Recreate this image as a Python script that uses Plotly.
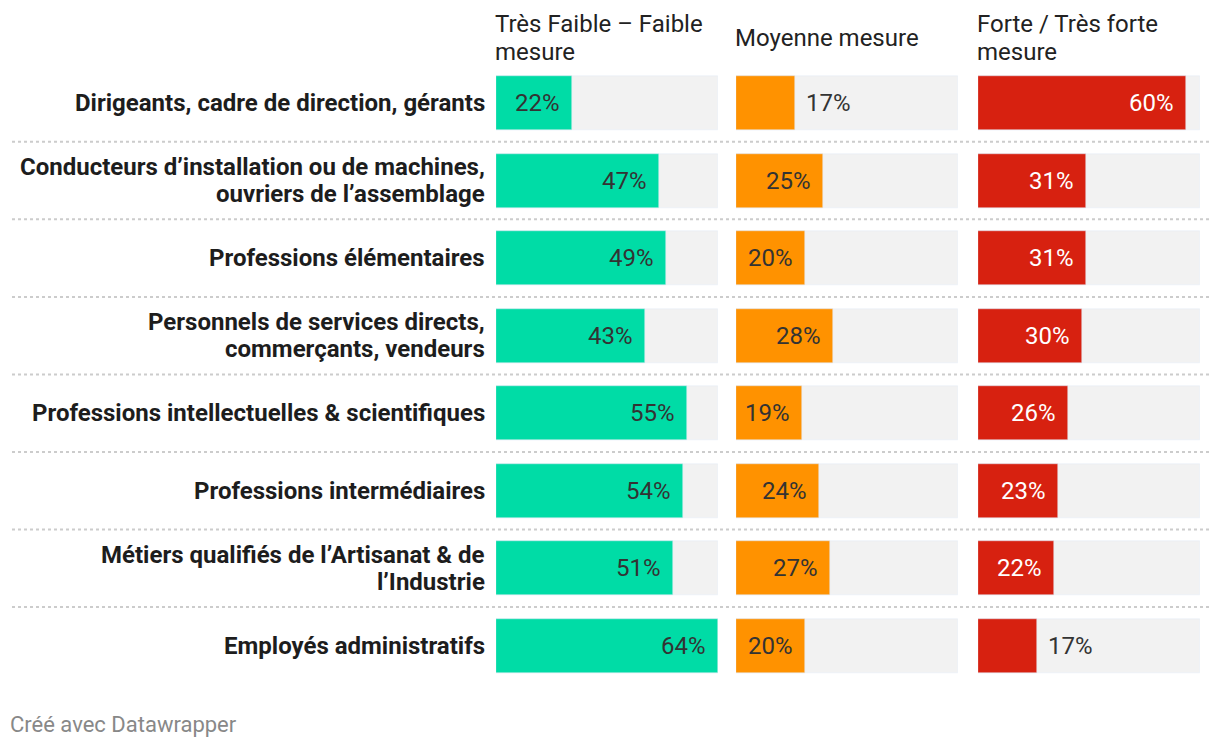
import plotly.graph_objects as go

categories = [
    "Dirigeants, cadre de direction, gérants",
    "Conducteurs d’installation ou de machines,<br>ouvriers de l’assemblage",
    "Professions élémentaires",
    "Personnels de services directs,<br>commerçants, vendeurs",
    "Professions intellectuelles & scientifiques",
    "Professions intermédiaires",
    "Métiers qualifiés de l’Artisanat & de<br>l’Industrie",
    "Employés administratifs",
]
series_names = ["Très Faible – Faible<br>mesure", "Moyenne mesure", "Forte / Très forte<br>mesure"]
faible = [22, 47, 49, 43, 55, 54, 51, 64]
moyenne = [17, 25, 20, 28, 19, 24, 27, 20]
forte = [60, 31, 31, 30, 26, 23, 22, 17]
series_values = [faible, moyenne, forte]
colors = ["#00dca6", "#ff9200", "#d72110"]
label_colors = ["#333333", "#333333", "#ffffff"]

# page body has an 8px margin; work in screen pixels and convert
OFF = 8
W, H = 1204, 734


def px(x):
    return (x - OFF) / W


def py(y):
    return 1 - (y - OFF) / H


panel_x = [496, 736, 978]
panel_w = 222
row0_px, row_step = 103 - OFF, 77.55
bar_px = 54
line_h = 27.5
FONT = "Roboto"

vmax = max(max(s) for s in series_values)
n = len(categories)
rows = list(range(n))

y_top = -row0_px / row_step
y_bot = (H - row0_px) / row_step

fig = go.Figure()
layout_axes = {}
annotations = []
for k, (vals, col) in enumerate(zip(series_values, colors)):
    xa = "x" if k == 0 else f"x{k+1}"
    xname = "xaxis" if k == 0 else f"xaxis{k+1}"
    fig.add_trace(go.Bar(x=[vmax] * n, y=rows, orientation="h", marker_color="#f2f2f2",
                         width=bar_px / row_step, xaxis=xa, yaxis="y", hoverinfo="skip",
                         showlegend=False))
    fig.add_trace(go.Bar(x=vals, y=rows, orientation="h", marker_color=col,
                         width=bar_px / row_step, xaxis=xa, yaxis="y", showlegend=False,
                         name=series_names[k].replace("<br>", " ")))
    layout_axes[xname] = dict(domain=[px(panel_x[k]), px(panel_x[k] + panel_w)],
                              range=[0, vmax], visible=False, fixedrange=True)
    for i, v in enumerate(vals):
        inside = v >= 18
        annotations.append(dict(
            x=v, y=i, xref=xa, yref="y", text=f"{v}%", showarrow=False,
            xanchor="right" if inside else "left", xshift=-10 if inside else 9,
            font=dict(family=FONT, size=24, color=label_colors[k] if inside else "#333333"),
        ))
    lines = series_names[k].split("<br>")
    for j, ln in enumerate(lines):
        yc = 38 + (j - (len(lines) - 1) / 2) * line_h
        annotations.append(dict(
            x=px(panel_x[k] - 3), y=py(yc), xref="paper", yref="paper", text=ln,
            showarrow=False, xanchor="left", yanchor="middle", align="left",
            font=dict(family=FONT, size=24, color="#222222"),
        ))

for i, c in enumerate(categories):
    lines = c.split("<br>")
    for j, ln in enumerate(lines):
        shift = -(j - (len(lines) - 1) / 2) * line_h
        annotations.append(dict(
            x=px(487), y=i, xref="paper", yref="y", text=f"<b>{ln}</b>", showarrow=False,
            xanchor="right", yanchor="middle", align="right", yshift=shift,
            font=dict(family=FONT, size=24, color="#1d1d1d"),
        ))

annotations.append(dict(
    x=px(8), y=py(724), xref="paper", yref="paper", text="Créé avec Datawrapper",
    showarrow=False, xanchor="left", yanchor="middle",
    font=dict(family=FONT, size=22, color="#888888"),
))

shapes = []
for i in range(n - 1):
    shapes.append(dict(type="line", xref="paper", yref="y", x0=px(12), x1=px(1212),
                       y0=i + 0.5, y1=i + 0.5, line=dict(color="#cccccc", width=2, dash="dot")))

fig.update_layout(
    width=W, height=H, margin=dict(l=0, r=0, t=0, b=0),
    paper_bgcolor="white", plot_bgcolor="white", barmode="overlay",
    yaxis=dict(domain=[0, 1], range=[y_bot, y_top], visible=False, fixedrange=True),
    annotations=annotations, shapes=shapes, bargap=0,
    **layout_axes,
)
fig.write_html("out.html")
